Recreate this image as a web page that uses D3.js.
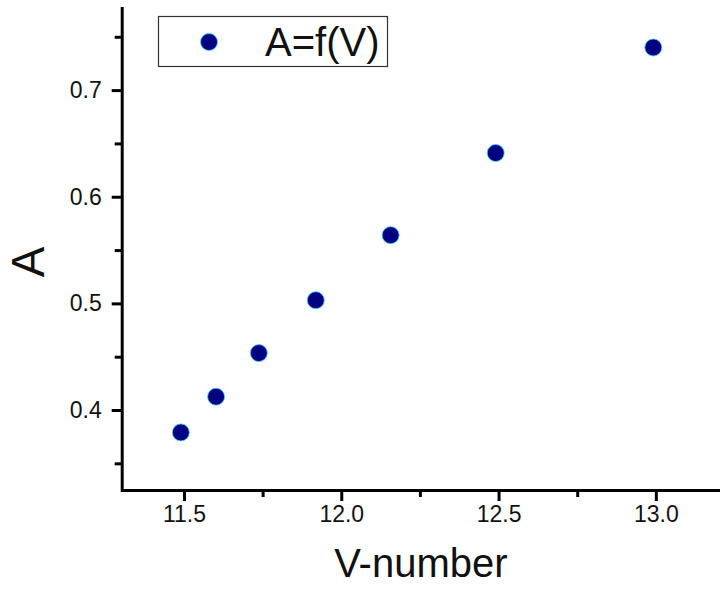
<!DOCTYPE html>
<html>
<head>
<meta charset="utf-8">
<script src="https://cdn.jsdelivr.net/npm/d3@7"></script>
<style>
  body { margin: 0; background: #fff; }
  text { font-family: "Liberation Sans", Arial, sans-serif; fill: #111; }
</style>
</head>
<body>
<div id="chart"></div>
<script>
// data
var vNumber = [11.490, 11.602, 11.738, 11.919, 12.157, 12.491, 12.992];
var aValues = [0.379, 0.4125, 0.4534, 0.503, 0.564, 0.641, 0.740];
var xTicks = [11.5, 12.0, 12.5, 13.0];
var xMinor = [11.75, 12.25, 12.75];
var yTicks = [0.4, 0.5, 0.6, 0.7];
var yMinor = [0.35, 0.45, 0.55, 0.65, 0.75];
var seriesName = "A=f(V)";

var W = 720, H = 591;
var plotLeft = 121.7, plotRight = 720, plotTop = 8, plotBottom = 490;

var svg = d3.select("#chart").append("svg")
    .attr("width", W)
    .attr("height", H);

var xScale = d3.scaleLinear().domain([11.302, 13.204]).range([plotLeft, plotRight]);
var yScale = d3.scaleLinear().domain([0.325, 0.777]).range([plotBottom, plotTop]);

// minor ticks
svg.append("g")
    .attr("transform", "translate(0," + plotBottom + ")")
    .call(d3.axisBottom(xScale).tickValues(xMinor).tickSize(7).tickFormat(""))
    .call(function(g) { g.select(".domain").remove(); })
    .selectAll("line").attr("stroke", "#000").attr("stroke-width", 3);

svg.append("g")
    .attr("transform", "translate(" + plotLeft + ",0)")
    .call(d3.axisLeft(yScale).tickValues(yMinor).tickSize(7).tickFormat(""))
    .call(function(g) { g.select(".domain").remove(); })
    .selectAll("line").attr("stroke", "#000").attr("stroke-width", 3);

// X axis
var xAxisGroup = svg.append("g")
    .attr("class", "x axis")
    .attr("transform", "translate(0," + plotBottom + ")")
    .call(d3.axisBottom(xScale).tickValues(xTicks).tickSizeInner(11).tickSizeOuter(0)
        .tickPadding(5).tickFormat(d3.format(".1f")));
xAxisGroup.attr("font-size", null).attr("font-family", null);
xAxisGroup.select(".domain").attr("stroke", "#000").attr("stroke-width", 3);
xAxisGroup.selectAll(".tick line").attr("stroke", "#000").attr("stroke-width", 3);
xAxisGroup.selectAll(".tick text")
    .style("font-size", "23px")
    .style("fill", "#111");

// Y axis
var yAxisGroup = svg.append("g")
    .attr("class", "y axis")
    .attr("transform", "translate(" + plotLeft + ",0)")
    .call(d3.axisLeft(yScale).tickValues(yTicks).tickSizeInner(10).tickSizeOuter(0)
        .tickPadding(10).tickFormat(d3.format(".1f")));
yAxisGroup.attr("font-size", null).attr("font-family", null);
yAxisGroup.select(".domain").attr("stroke", "#000").attr("stroke-width", 3)
    .attr("stroke-linecap", "square");
yAxisGroup.selectAll(".tick line").attr("stroke", "#000").attr("stroke-width", 3);
yAxisGroup.selectAll(".tick text")
    .style("font-size", "23px")
    .style("fill", "#111");

// axis titles
svg.append("text")
    .attr("x", (plotLeft + plotRight) / 2)
    .attr("y", 577)
    .attr("text-anchor", "middle")
    .style("font-size", "40px")
    .text("V-number");

svg.append("text")
    .attr("transform", "translate(44,262) rotate(-90)")
    .attr("text-anchor", "middle")
    .style("font-size", "46px")
    .text("A");

// points
var data = vNumber.map(function(v, i) { return { v: v, a: aValues[i] }; });
svg.selectAll(".dot")
    .data(data)
    .enter().append("circle")
    .attr("class", "dot")
    .attr("r", 8.5)
    .attr("cx", function(d) { return xScale(d.v); })
    .attr("cy", function(d) { return yScale(d.a); })
    .attr("fill", "#000080")
    .attr("stroke", "#3fd0f5")
    .attr("stroke-width", 0.8);

// legend
var leg = svg.append("g").attr("class", "legend");
leg.append("rect")
    .attr("x", 158.5).attr("y", 16.5)
    .attr("width", 229).attr("height", 50)
    .attr("fill", "#fff")
    .attr("stroke", "#333")
    .attr("stroke-width", 1.2);
leg.append("circle")
    .attr("cx", 209).attr("cy", 42).attr("r", 8.5)
    .attr("fill", "#000080")
    .attr("stroke", "#3fd0f5")
    .attr("stroke-width", 0.8);
leg.append("text")
    .attr("x", 265).attr("y", 56)
    .style("font-size", "40px")
    .text(seriesName);
</script>
</body>
</html>
